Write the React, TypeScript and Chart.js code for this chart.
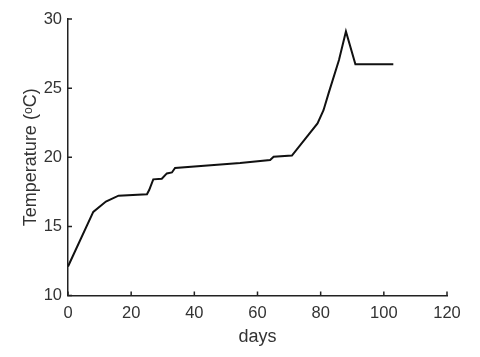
import React, { useEffect, useRef } from "react";
import { Chart, registerables } from "chart.js";

Chart.register(...registerables);

const days = [0, 8, 12, 16, 25, 25.7, 27, 29.7, 31.3, 32.9, 33.9, 54.5, 64, 65.1, 70.9, 79, 80.9, 82.5, 85.8, 88, 91, 103];
const temps = [12.1, 16.05, 16.8, 17.22, 17.32, 17.63, 18.4, 18.45, 18.83, 18.9, 19.22, 19.58, 19.8, 20.03, 20.12, 22.45, 23.4, 24.62, 27.03, 29.1, 26.72, 26.72];
const xTicks = [0, 20, 40, 60, 80, 100, 120];
const yTicks = [10, 15, 20, 25, 30];

const FONT = "'Liberation Sans', Arial, sans-serif";

const inwardTicks = {
  id: "inwardTicks",
  afterDraw(chart: any) {
    const ctx = chart.ctx;
    const xs = chart.scales.x;
    const ys = chart.scales.y;
    const area = chart.chartArea;
    ctx.save();
    ctx.strokeStyle = "#222";
    ctx.lineWidth = 1.5;
    ctx.beginPath();
    xTicks.forEach((v) => {
      const px = xs.getPixelForValue(v);
      ctx.moveTo(px, area.bottom);
      ctx.lineTo(px, area.bottom - 4);
    });
    yTicks.forEach((v) => {
      const py = ys.getPixelForValue(v);
      ctx.moveTo(area.left, py);
      ctx.lineTo(area.left + 4, py);
    });
    ctx.stroke();
    ctx.restore();
  },
};

export default function App() {
  const ref = useRef<HTMLCanvasElement>(null);
  useEffect(() => {
    if (!ref.current) return;
    const chart = new Chart(ref.current, {
      type: "line",
      data: {
        datasets: [
          {
            data: days.map((d, i) => ({ x: d, y: temps[i] })),
            borderColor: "#111",
            borderWidth: 2,
            pointRadius: 0,
            tension: 0,
            fill: false,
          },
        ],
      },
      options: {
        animation: false,
        responsive: false,
        maintainAspectRatio: false,
        layout: { padding: { left: 20, top: 19, right: 33, bottom: 9 } },
        plugins: { legend: { display: false }, tooltip: { enabled: false } },
        scales: {
          x: {
            type: "linear",
            min: 0,
            max: 120,
            afterBuildTicks: (s: any) => {
              s.ticks = xTicks.map((v) => ({ value: v }));
            },
            afterFit: (s: any) => {
              s.height = 52.5;
            },
            grid: { display: false, drawTicks: false },
            border: { display: true, color: "#222", width: 1.5 },
            ticks: { color: "#333", font: { family: FONT, size: 16.5 }, padding: 8 },
            title: {
              display: true,
              text: "days",
              color: "#333",
              font: { family: FONT, size: 18 },
              padding: { top: 0, bottom: 0 },
            },
          },
          y: {
            type: "linear",
            min: 10,
            max: 30,
            afterBuildTicks: (s: any) => {
              s.ticks = yTicks.map((v) => ({ value: v }));
            },
            afterFit: (s: any) => {
              s.width = 48;
            },
            grid: { display: false, drawTicks: false },
            border: { display: true, color: "#222", width: 1.5 },
            ticks: { color: "#333", font: { family: FONT, size: 16.5 }, padding: 6 },
            title: {
              display: true,
              text: "Temperature (\u1D52C)",
              color: "#333",
              font: { family: FONT, size: 18 },
              padding: { top: 0, bottom: 0 },
            },
          },
        },
      },
      plugins: [inwardTicks],
    });
    return () => chart.destroy();
  }, []);
  return (
    <div style={{ position: "fixed", left: 0, top: 0, width: 480, height: 357, background: "#fff" }}>
      <canvas ref={ref} width={480} height={357} style={{ width: 480, height: 357 }} />
    </div>
  );
}
